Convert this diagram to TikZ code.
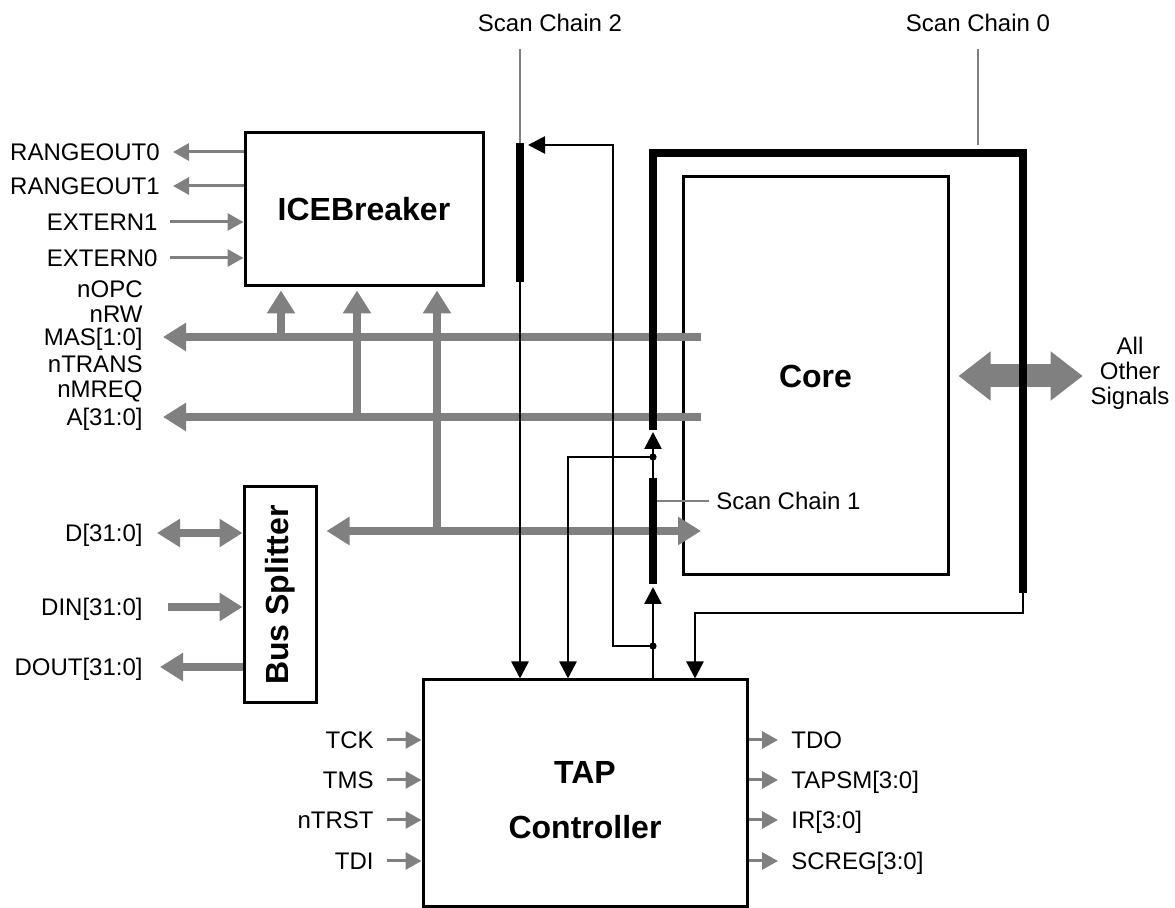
\documentclass[tikz,border=0pt]{standalone}
\usepackage{fontspec}
\setmainfont{Liberation Sans}
\usetikzlibrary{arrows.meta}

\begin{document}
\begin{tikzpicture}[x=0.5pt,y=-0.5pt,
  every node/.style={font=\fontsize{12}{12.5}\selectfont,inner sep=0pt},
  lbl/.style={text height=8.6pt,text depth=0pt},
  box/.style={draw,line width=1.5pt,font=\bfseries\fontsize{16}{19}\selectfont},
  sig/.style={line width=1.3pt,>={Triangle[length=8.5pt,width=8.5pt]}},
  chain/.style={line width=3.75pt},
  lead/.style={gray,line width=0.7pt},
  pin/.style={gray,line width=1.5pt,>={Triangle[length=8pt,width=8.5pt]}},
  bus/.style={gray,line width=4pt,>={Triangle[length=11.5pt,width=13.5pt]}},
  fat/.style={gray,line width=11.5pt,>={Triangle[length=16pt,width=23.5pt]}}]
\useasboundingbox (0,0) rectangle (1175,908);

\node[box,minimum width=119pt,minimum height=76.5pt] (ice) at (364,209.5) {ICEBreaker};
\node[box,minimum width=132.5pt,minimum height=199pt] (core) at (815.5,376) {Core};
\node[box,minimum width=36pt,minimum height=108pt] (split) at (280,595) {\rotatebox{90}{Bus Splitter}};
\node[box,minimum width=162pt,minimum height=113.5pt] (tap) at (585,793.5) {};
\node[font=\bfseries\fontsize{16}{27.5}\selectfont,align=center] (taptxt) at ([yshift=-3.5pt]tap.center) {TAP\\Controller};

\node[lbl,anchor=east] (rng0) at (160,152) {RANGEOUT0};
\node[lbl,anchor=east] (rng1) at (160,186) {RANGEOUT1};
\node[lbl,anchor=east] (ext1) at (158,222) {EXTERN1};
\node[lbl,anchor=east] (ext0) at (158,258) {EXTERN0};
\node[lbl,anchor=east] (nopc) at (143,289) {nOPC};
\node[lbl,anchor=east] (nrw) at (143,314) {nRW};
\node[lbl,anchor=east] (mas) at (143,337) {MAS[1:0]};
\node[lbl,anchor=east] (ntrans) at (143,364) {nTRANS};
\node[lbl,anchor=east] (nmreq) at (143,389) {nMREQ};
\node[lbl,anchor=east] (abus) at (143,417) {A[31:0]};
\node[lbl,anchor=east] (dbus) at (143,533) {D[31:0]};
\node[lbl,anchor=east] (din) at (143,607) {DIN[31:0]};
\node[lbl,anchor=east] (dout) at (143,667) {DOUT[31:0]};
\node[lbl,anchor=east] (tck) at (374,740) {TCK};
\node[lbl,anchor=east] (tms) at (374,780) {TMS};
\node[lbl,anchor=east] (ntrst) at (374,820) {nTRST};
\node[lbl,anchor=east] (tdi) at (374,861) {TDI};
\node[lbl,anchor=west] (tdo) at (791,740) {TDO};
\node[lbl,anchor=west] (tapsm) at (791,780) {TAPSM[3:0]};
\node[lbl,anchor=west] (ir) at (791,820) {IR[3:0]};
\node[lbl,anchor=west] (screg) at (791,861) {SCREG[3:0]};
\node[align=center] (other) at (1130,373) {All\\Other\\Signals};
\node[lbl] (sc2lbl) at (550,23) {Scan Chain 2};
\node[lbl] (sc0lbl) at (978,23) {Scan Chain 0};
\node[lbl,anchor=west] (sc1lbl) at (716,501) {Scan Chain 1};

\coordinate (masend) at (701,337);
\coordinate (aend) at (701,417);
\coordinate (dend) at (701,531);
\coordinate (t1) at (281,337);
\coordinate (t2) at (357,417);
\coordinate (t3) at (437,531);
\coordinate (sc2t) at (520,143);
\coordinate (sc2b) at (520,282);
\coordinate (sc2lead) at (520,49);
\coordinate (sc1t) at (653,478);
\coordinate (sc1b) at (653,584);
\coordinate (sc1lead) at (653,501);
\coordinate (sc0b) at (653,430);
\coordinate (sc0c) at (1023,153);
\coordinate (sc0e) at (1023,593);
\coordinate (j1) at (653,457);
\coordinate (j2) at (653,646);
\coordinate (k1) at (568,457);
\coordinate (k2) at (613,646);
\coordinate (k3) at (613,145);
\coordinate (k5) at (695,613);

\draw[pin,->,shorten >=6.5pt] (ice.west |- rng0) -- (rng0);
\draw[pin,->,shorten >=6.5pt] (ice.west |- rng1) -- (rng1);
\draw[pin,->,shorten <=6pt] (ext1) -- (ext1 -| ice.west);
\draw[pin,->,shorten <=6pt] (ext0) -- (ext0 -| ice.west);
\draw[pin,->,shorten <=6.5pt] (tck) -- (tck -| tap.west);
\draw[pin,->,shorten <=6.5pt] (tms) -- (tms -| tap.west);
\draw[pin,->,shorten <=6.5pt] (ntrst) -- (ntrst -| tap.west);
\draw[pin,->,shorten <=6.5pt] (tdi) -- (tdi -| tap.west);
\draw[pin,->,shorten >=6.5pt] (tap.east |- tdo) -- (tdo);
\draw[pin,->,shorten >=6.5pt] (tap.east |- tapsm) -- (tapsm);
\draw[pin,->,shorten >=6.5pt] (tap.east |- ir) -- (ir);
\draw[pin,->,shorten >=6.5pt] (tap.east |- screg) -- (screg);

\draw[bus,->] (masend) -- ([xshift=10pt]masend -| mas.east);
\draw[bus,->] (aend) -- ([xshift=10pt]aend -| abus.east);
\draw[bus,<->,shorten <=4.5pt] (split.east |- dend) -- (dend);
\draw[bus,->,shorten >=1.5pt] (t1) -- (t1 |- ice.south);
\draw[bus,->,shorten >=1.5pt] (t2) -- (t2 |- ice.south);
\draw[bus,->,shorten >=1.5pt] (t3) -- (t3 |- ice.south);
\draw[bus,<->,shorten <=7pt] (dbus) -- (dbus -| split.west);
\draw[bus,->,shorten <=12.5pt] (din) -- (din -| split.west);
\draw[bus,->,shorten >=8.5pt] (split.west |- dout) -- (dout);
\draw[fat,<->,shorten <=4.5pt,shorten >=3.75pt] (core.east) -- (core.east -| other.west);

\draw[lead] (sc2lead) -- (sc2t);
\draw[lead,shorten >=4pt] ([yshift=-8.5pt]sc0lbl.south) -- (sc0lbl.south |- sc0c);
\draw[lead,shorten >=3.5pt] (sc1lead) -- (sc1lbl.west);

\draw[chain] (sc2t) -- (sc2b);
\draw[chain] (sc1t) -- (sc1b);
\draw[chain] (sc0b) |- (sc0c) -- (sc0e);

\draw[sig,->] (sc2b) -- (sc2b |- tap.north);
\draw[sig,->] (j1) -- (k1) -- (k1 |- tap.north);
\draw[sig,->,shorten >=4pt] (j2) -- (k2) -- (k3) -- (k3 -| sc2t);
\draw[sig,->,shorten >=1.5pt] (tap.north -| sc1b) -- (sc1b);
\draw[sig,->,shorten >=1pt] (sc1t) -- (sc0b);
\draw[sig,->] (sc0e) |- (k5) -- (k5 |- tap.north);
\fill (j1) circle[radius=1.8pt];
\fill (j2) circle[radius=1.8pt];
\end{tikzpicture}
\end{document}
